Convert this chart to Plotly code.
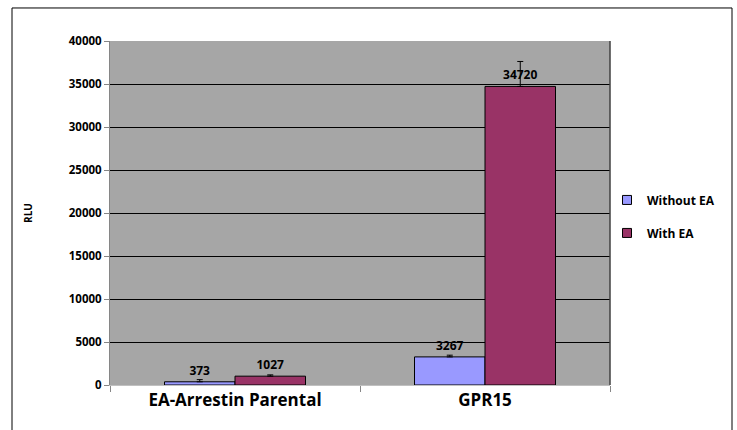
import plotly.graph_objects as go

categories = ["EA-Arrestin Parental", "GPR15"]
without_ea = [373, 3267]
with_ea = [1027, 34720]
without_ea_err = [250, 200]
with_ea_err = [150, 2900]
y_ticks = [0, 5000, 10000, 15000, 20000, 25000, 30000, 35000, 40000]

FONT = "Open Sans"
C_WITHOUT = "#9999FF"
C_WITH = "#993366"

fig = go.Figure()
for name, vals, errs, col in [("Without EA", without_ea, without_ea_err, C_WITHOUT),
                              ("With EA", with_ea, with_ea_err, C_WITH)]:
    fig.add_trace(go.Bar(
        name=name, x=categories, y=vals, showlegend=False,
        marker=dict(color=col, line=dict(color="#000000", width=1)),
        error_y=dict(type="data", array=errs, arrayminus=[0, 0], symmetric=False,
                     color="#000000", thickness=1, width=3),
        text=[str(v) for v in vals], textposition="outside",
        textfont=dict(family=FONT, size=12, color="#000000", weight="bold"),
        cliponaxis=False,
    ))
for name, col in [("Without EA", C_WITHOUT), ("With EA", C_WITH)]:
    fig.add_trace(go.Scatter(
        name=name, x=[categories[0]], y=[None], mode="markers",
        marker=dict(symbol="square", size=9, color=col, line=dict(color="#000000", width=1)),
        legendgroup=name,
    ))

fig.update_layout(
    width=737, height=430,
    margin=dict(l=110, r=127, t=41, b=45, autoexpand=False),
    paper_bgcolor="white", plot_bgcolor="#A6A6A6",
    barmode="group", bargap=0.436, bargroupgap=0,
    font=dict(family=FONT, color="#000000"),
    legend=dict(x=0.994, y=0.49, yanchor="middle", xanchor="left",
                bgcolor="rgba(0,0,0,0)",
                font=dict(family=FONT, size=12, weight="bold"),
                tracegroupgap=14, itemwidth=30),
    xaxis=dict(showgrid=False, ticks="outside", tickson="boundaries", ticklen=6,
               tickcolor="#868686", showline=True, linecolor="#C0C0C0", automargin=False,
               tickfont=dict(family=FONT, size=17, weight="bold")),
    yaxis=dict(range=[0, 40000], tickvals=y_ticks, tickformat="d", showgrid=True,
               gridcolor="#000000", gridwidth=1, ticks="outside", ticklen=5,
               tickcolor="#868686", showline=True, linecolor="#868686", zeroline=False,
               automargin=False,
               tickfont=dict(family=FONT, size=11.5, weight="bold"),
               title=dict(text="RLU", font=dict(family=FONT, size=10, weight="bold"), standoff=34)),
    shapes=[
        dict(type="line", xref="paper", yref="paper", x0=1, x1=1, y0=0, y1=1,
             line=dict(color="#404040", width=1.5)),
        dict(type="line", xref="paper", yref="paper", x0=-0.196, x1=-0.196, y0=-0.2, y1=1.096,
             line=dict(color="#000000", width=1)),
        dict(type="line", xref="paper", yref="paper", x0=-0.196, x1=1.244, y0=1.096, y1=1.096,
             line=dict(color="#000000", width=1)),
        dict(type="line", xref="paper", yref="paper", x0=1.244, x1=1.244, y0=-0.2, y1=1.096,
             line=dict(color="#000000", width=1)),
    ],
)

fig.write_html("out.html", config={"displayModeBar": False},
               post_script="document.body.style.margin='0';document.body.style.overflow='hidden';")
